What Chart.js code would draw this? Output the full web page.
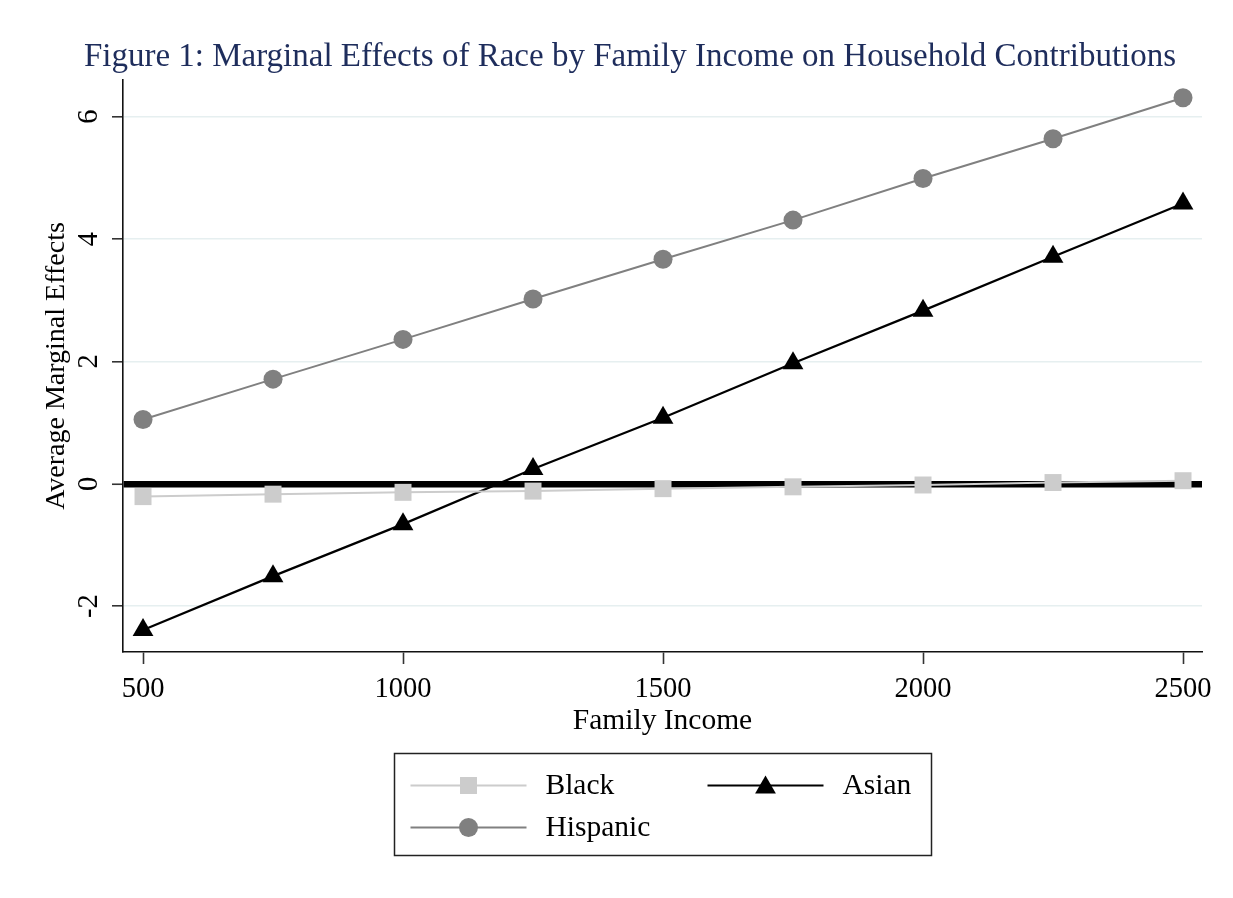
<!DOCTYPE html>
<html><head><meta charset="utf-8">
<script src="https://cdn.jsdelivr.net/npm/chart.js@4/dist/chart.umd.min.js"></script>
<style>html,body{margin:0;padding:0;background:#fff;}#wrap{width:1233px;height:898px;}</style>
</head><body><div id="wrap"><canvas id="c" width="1233" height="898"></canvas></div>
<script>
const incomes = [500, 750, 1000, 1250, 1500, 1750, 2000, 2250, 2500];
const blackVals = [-0.21, -0.17, -0.14, -0.12, -0.08, -0.05, -0.02, 0.02, 0.05];
const asianVals = [-2.39, -1.51, -0.66, 0.24, 1.08, 1.97, 2.83, 3.71, 4.58];
const hispanicVals = [1.05, 1.71, 2.36, 3.02, 3.67, 4.31, 4.99, 5.64, 6.31];
const xTicks = [500, 1000, 1500, 2000, 2500];
const yTicks = [-2, 0, 2, 4, 6];
const seriesNames = ['Black', 'Asian', 'Hispanic'];
const titleText = 'Figure 1: Marginal Effects of Race by Family Income on Household Contributions';
const xTitle = 'Family Income';
const yTitle = 'Average Marginal Effects';

const SERIF = '"Liberation Serif", "Times New Roman", serif';
const toPts = vals => incomes.map((x, i) => ({x: x, y: vals[i]}));

const styles = [
  {color: '#cccccc', style: 'rect', radius: 12, width: 2},
  {color: '#000000', style: 'triangle', radius: 12, width: 2.2},
  {color: '#808080', style: 'circle', radius: 9.5, width: 2}
];

function drawMarker(ctx, st, x, y) {
  ctx.beginPath();
  if (st.style === 'circle') {
    ctx.arc(x, y, st.radius, 0, Math.PI * 2);
  } else if (st.style === 'rect') {
    const s = Math.SQRT1_2 * st.radius;
    ctx.rect(x - s, y - s, 2 * s, 2 * s);
  } else {
    let rad = 0;
    ctx.moveTo(x + Math.sin(rad) * st.radius, y - Math.cos(rad) * st.radius);
    rad += 2 * Math.PI / 3;
    ctx.lineTo(x + Math.sin(rad) * st.radius, y - Math.cos(rad) * st.radius);
    rad += 2 * Math.PI / 3;
    ctx.lineTo(x + Math.sin(rad) * st.radius, y - Math.cos(rad) * st.radius);
    ctx.closePath();
  }
  ctx.fillStyle = st.color;
  ctx.fill();
}

const boxLegend = {
  id: 'boxLegend',
  afterDraw(chart) {
    const ctx = chart.ctx, ca = chart.chartArea;
    const w = 537, h = 102;
    const left = Math.round((ca.left + ca.right) / 2 - w / 2) + 0.5;
    const top = Math.round(ca.bottom + 101) + 0.5;
    ctx.save();
    ctx.strokeStyle = '#222';
    ctx.lineWidth = 1.5;
    ctx.strokeRect(left, top, w, h);
    const layout = [{col: 0, row: 0}, {col: 1, row: 0}, {col: 0, row: 1}];
    ctx.font = '29.5px ' + SERIF;
    ctx.textBaseline = 'middle';
    ctx.textAlign = 'left';
    layout.forEach((p, i) => {
      const st = styles[i];
      const x0 = left + 16 + p.col * 297;
      const y = top + 32 + p.row * 42;
      ctx.strokeStyle = st.color;
      ctx.lineWidth = st.width;
      ctx.beginPath();
      ctx.moveTo(x0, y); ctx.lineTo(x0 + 116, y);
      ctx.stroke();
      drawMarker(ctx, st, x0 + 58, y + (st.style === 'triangle' ? 2 : 0));
      ctx.fillStyle = '#000';
      ctx.fillText(chart.data.datasets[i].label, x0 + 135, y + 1);
    });
    ctx.restore();
  }
};

const datasets = [blackVals, asianVals, hispanicVals].map((vals, i) => ({
  label: seriesNames[i],
  data: toPts(vals),
  borderColor: styles[i].color,
  backgroundColor: styles[i].color,
  borderWidth: styles[i].width,
  pointStyle: styles[i].style,
  pointRadius: styles[i].radius,
  pointHoverRadius: styles[i].radius,
  pointBorderWidth: 0,
  pointBackgroundColor: styles[i].color,
  tension: 0,
  order: i === 0 ? 1 : 2
}));

new Chart(document.getElementById('c'), {
  type: 'line',
  data: {datasets: datasets},
  plugins: [boxLegend],
  options: {
    responsive: false,
    animation: false,
    devicePixelRatio: 1,
    layout: {padding: {left: 27, right: 0, top: 0, bottom: 146}},
    plugins: {
      legend: {display: false},
      tooltip: {enabled: false},
      title: {
        display: true,
        text: titleText,
        color: '#1e2d5c',
        font: {family: SERIF, size: 33, weight: 'normal', lineHeight: 1.2},
        padding: {top: 38, bottom: 2.4}
      }
    },
    scales: {
      x: {
        type: 'linear',
        min: 461.5,
        max: 2536.5,
        afterBuildTicks: s => { s.ticks = xTicks.map(v => ({value: v})); },
        afterFit: s => { s.height = 100; },
        border: {display: true, color: '#111', width: 1.6},
        grid: {drawOnChartArea: false, drawTicks: true, tickLength: 12, tickColor: '#333', tickWidth: 1.6},
        ticks: {color: '#000', padding: 8, font: {family: SERIF, size: 28.5}, maxRotation: 0, minRotation: 0, callback: v => String(v)},
        title: {display: true, text: xTitle, color: '#000', font: {family: SERIF, size: 29.5, lineHeight: 1.2}, padding: {top: 0, bottom: 13}}
      },
      y: {
        type: 'linear',
        min: -2.75,
        max: 6.6,
        afterBuildTicks: s => { s.ticks = yTicks.map(v => ({value: v})); },
        afterFit: s => { s.width = 96; },
        border: {display: true, color: '#111', width: 1.6},
        grid: {
          drawTicks: true,
          tickLength: 11,
          tickColor: '#333',
          tickWidth: 1.6,
          color: c => (c.tick && c.tick.value === 0) ? '#000' : '#e6eff0',
          lineWidth: c => (c.tick && c.tick.value === 0) ? 6.5 : 1.6
        },
        ticks: {color: '#000', padding: 11, crossAlign: 'center', minRotation: 90, maxRotation: 90, font: {family: SERIF, size: 28.5}},
        title: {display: true, text: yTitle, color: '#000', font: {family: SERIF, size: 28, lineHeight: 1.2}, padding: {top: 13, bottom: 0}}
      },
      yRight: {
        type: 'linear',
        position: 'right',
        min: -2.75,
        max: 6.6,
        afterFit: s => { s.width = 31; },
        border: {display: false},
        grid: {display: false, drawTicks: false},
        ticks: {display: false}
      }
    }
  }
});
</script>
</body></html>
